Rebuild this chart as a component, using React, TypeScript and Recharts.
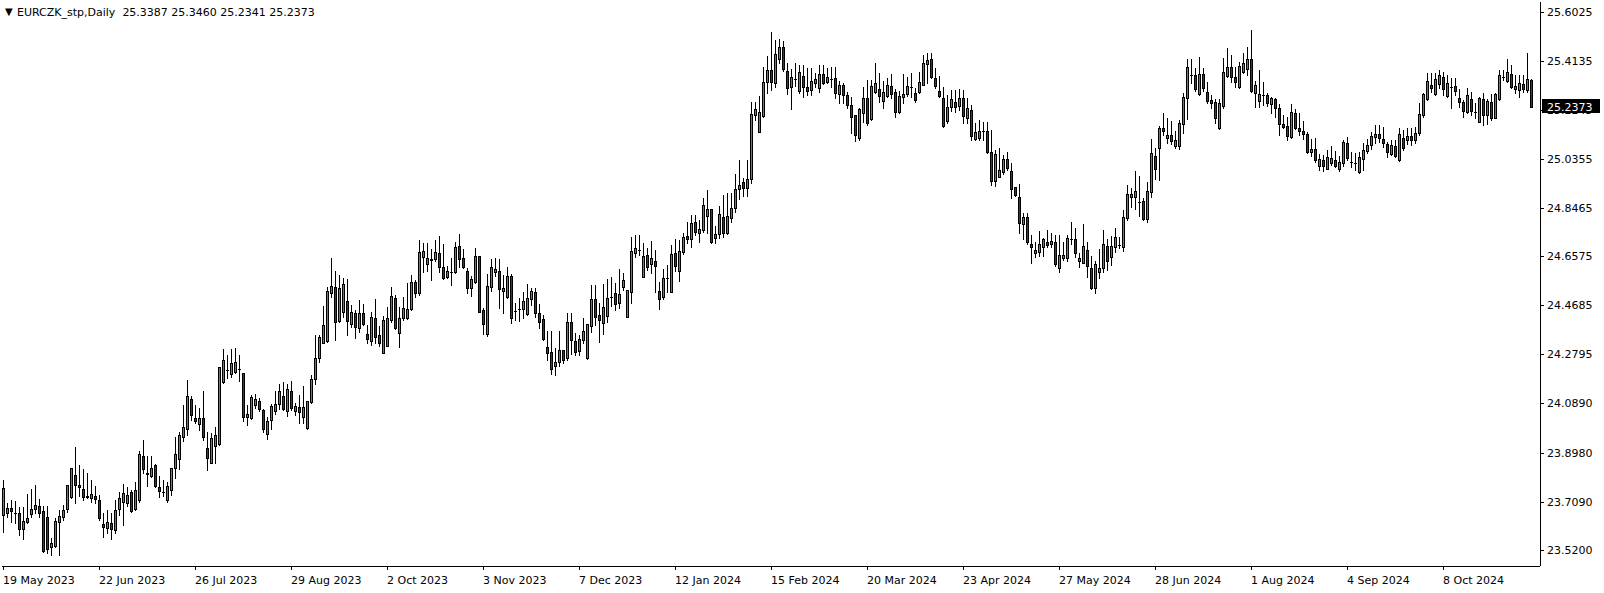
import React from 'react';
import { ComposedChart, Bar, XAxis, YAxis } from 'recharts';

const opens = [
23.657,23.665,23.684,23.665,23.665,23.603,23.630,23.661,23.680,23.692,
23.673,23.649,23.533,23.537,23.630,23.649,23.680,23.727,23.812,23.773,
23.758,23.731,23.723,23.731,23.715,23.622,23.607,23.626,23.599,23.680,
23.707,23.704,23.746,23.680,23.715,23.885,23.820,23.808,23.851,23.765,
23.746,23.715,23.754,23.839,23.874,23.959,23.990,24.106,24.032,24.009,
24.032,23.916,23.858,23.924,23.932,24.172,24.218,24.203,24.211,24.222,
24.207,24.036,24.032,24.083,24.098,24.063,23.971,24.025,24.060,24.087,
24.118,24.060,24.137,24.060,24.075,24.036,23.994,24.094,24.183,24.265,
24.323,24.330,24.516,24.539,24.408,24.443,24.485,24.396,24.439,24.381,
24.439,24.358,24.330,24.419,24.354,24.284,24.311,24.412,24.497,24.361,
24.419,24.419,24.454,24.559,24.516,24.656,24.628,24.648,24.648,24.671,
24.617,24.578,24.598,24.598,24.698,24.652,24.601,24.535,24.559,24.659,
24.450,24.358,24.539,24.598,24.601,24.524,24.501,24.582,24.447,24.454,
24.454,24.435,24.493,24.520,24.439,24.416,24.307,24.288,24.234,24.249,
24.296,24.265,24.404,24.330,24.292,24.334,24.265,24.389,24.493,24.431,
24.400,24.427,24.501,24.516,24.478,24.539,24.423,24.520,24.671,24.683,
24.578,24.663,24.628,24.640,24.524,24.501,24.574,24.520,24.671,24.601,
24.675,24.737,24.725,24.791,24.748,24.760,24.814,24.841,24.729,24.745,
24.810,24.748,24.806,24.845,24.919,24.946,24.923,24.957,25.205,25.139,
25.201,25.333,25.379,25.329,25.422,25.468,25.375,25.313,25.344,25.298,
25.356,25.313,25.302,25.329,25.310,25.364,25.333,25.344,25.348,25.286,
25.321,25.282,25.244,25.205,25.116,25.213,25.271,25.190,25.294,25.306,
25.259,25.279,25.317,25.294,25.217,25.275,25.286,25.313,25.290,25.294,
25.321,25.402,25.422,25.348,25.298,25.271,25.182,25.236,25.255,25.240,
25.271,25.193,25.224,25.112,25.116,25.143,25.143,25.062,24.950,24.965,
24.985,25.035,24.988,24.926,24.888,24.783,24.810,24.706,24.671,24.675,
24.694,24.714,24.706,24.714,24.613,24.652,24.652,24.725,24.725,24.640,
24.632,24.683,24.613,24.535,24.598,24.613,24.698,24.656,24.694,24.702,
24.694,24.806,24.888,24.888,24.868,24.872,24.803,24.907,25.046,25.077,
25.155,25.116,25.128,25.085,25.085,25.170,25.271,25.360,25.360,25.286,
25.364,25.294,25.263,25.255,25.155,25.240,25.356,25.391,25.352,25.313,
25.372,25.383,25.422,25.290,25.259,25.282,25.282,25.248,25.267,25.232,
25.170,25.163,25.120,25.213,25.155,25.143,25.132,25.062,25.073,25.008,
25.031,24.996,25.019,25.031,24.996,25.019,25.097,25.023,25.019,24.985,
25.035,25.066,25.089,25.120,25.132,25.112,25.093,25.054,25.085,25.031,
25.116,25.108,25.124,25.108,25.135,25.205,25.267,25.321,25.286,25.325,
25.352,25.279,25.313,25.317,25.271,25.255,25.217,25.267,25.217,25.178,
25.267,25.205,25.255,25.193,25.267,25.352,25.337,25.364,25.306,25.302,
25.325,25.302,25.3387];

const highs = [
23.793,23.704,23.715,23.711,23.688,23.688,23.738,23.758,23.773,23.719,
23.692,23.692,23.568,23.645,23.676,23.696,23.773,23.839,23.920,23.851,
23.835,23.820,23.793,23.769,23.734,23.665,23.676,23.665,23.715,23.746,
23.777,23.765,23.754,23.785,23.905,23.947,23.885,23.885,23.854,23.808,
23.793,23.785,23.839,23.959,23.978,24.083,24.180,24.118,24.083,24.071,
24.137,23.978,23.974,23.998,24.230,24.300,24.276,24.300,24.303,24.276,
24.207,24.083,24.121,24.125,24.110,24.067,24.036,24.087,24.137,24.164,
24.172,24.164,24.176,24.091,24.121,24.156,24.098,24.199,24.354,24.354,
24.466,24.539,24.652,24.601,24.586,24.574,24.570,24.470,24.450,24.489,
24.474,24.392,24.443,24.493,24.388,24.427,24.462,24.539,24.508,24.462,
24.501,24.555,24.586,24.567,24.721,24.710,24.710,24.687,24.721,24.737,
24.706,24.621,24.652,24.714,24.745,24.687,24.613,24.582,24.690,24.659,
24.458,24.590,24.648,24.652,24.648,24.586,24.617,24.590,24.478,24.497,
24.520,24.551,24.535,24.535,24.474,24.431,24.369,24.369,24.303,24.369,
24.296,24.439,24.439,24.361,24.354,24.419,24.396,24.547,24.547,24.478,
24.551,24.570,24.578,24.555,24.609,24.594,24.528,24.733,24.741,24.741,
24.710,24.690,24.717,24.683,24.559,24.609,24.625,24.702,24.725,24.721,
24.748,24.791,24.818,24.818,24.799,24.883,24.915,24.841,24.776,24.853,
24.895,24.903,24.903,24.977,25.031,24.961,25.031,25.255,25.255,25.279,
25.391,25.433,25.526,25.495,25.499,25.491,25.406,25.383,25.406,25.399,
25.399,25.387,25.387,25.368,25.399,25.399,25.387,25.391,25.391,25.337,
25.329,25.294,25.275,25.205,25.232,25.313,25.341,25.341,25.406,25.368,
25.337,25.348,25.364,25.306,25.298,25.364,25.352,25.368,25.310,25.372,
25.437,25.445,25.445,25.387,25.356,25.313,25.282,25.302,25.302,25.306,
25.302,25.271,25.244,25.174,25.186,25.178,25.178,25.147,25.070,25.077,
25.050,25.062,25.019,24.926,24.938,24.826,24.826,24.741,24.714,24.756,
24.729,24.760,24.748,24.741,24.741,24.714,24.741,24.791,24.768,24.671,
24.783,24.714,24.659,24.640,24.687,24.760,24.725,24.737,24.768,24.733,
24.837,24.934,24.922,24.988,24.969,24.883,24.946,25.112,25.077,25.162,
25.213,25.193,25.182,25.143,25.186,25.290,25.422,25.422,25.387,25.430,
25.387,25.333,25.282,25.267,25.267,25.426,25.464,25.437,25.391,25.410,
25.445,25.468,25.534,25.337,25.379,25.333,25.290,25.275,25.271,25.248,
25.205,25.197,25.248,25.228,25.213,25.182,25.139,25.112,25.116,25.054,
25.050,25.070,25.085,25.066,25.046,25.108,25.120,25.062,25.058,25.062,
25.097,25.112,25.139,25.166,25.166,25.159,25.101,25.108,25.108,25.155,
25.147,25.155,25.155,25.159,25.252,25.290,25.368,25.368,25.368,25.379,
25.372,25.360,25.348,25.348,25.306,25.263,25.310,25.294,25.252,25.275,
25.290,25.267,25.286,25.290,25.379,25.379,25.422,25.399,25.360,25.360,
25.360,25.445,25.3460];

const lows = [
23.591,23.649,23.630,23.626,23.580,23.564,23.626,23.649,23.665,23.649,
23.514,23.510,23.502,23.533,23.502,23.638,23.669,23.723,23.704,23.731,
23.715,23.723,23.707,23.704,23.638,23.572,23.587,23.564,23.587,23.657,
23.618,23.692,23.669,23.676,23.707,23.820,23.769,23.804,23.765,23.727,
23.731,23.707,23.734,23.800,23.835,23.943,23.967,24.025,24.013,23.986,
23.947,23.831,23.858,23.858,23.928,24.168,24.187,24.191,24.207,24.176,
24.021,24.005,24.029,24.071,24.060,23.978,23.951,23.990,24.048,24.067,
24.063,24.040,24.063,24.044,24.013,24.013,23.990,24.091,24.164,24.249,
24.323,24.327,24.501,24.334,24.404,24.423,24.354,24.385,24.342,24.365,
24.392,24.323,24.315,24.323,24.311,24.284,24.311,24.404,24.377,24.307,
24.412,24.416,24.450,24.501,24.508,24.598,24.601,24.567,24.640,24.598,
24.570,24.574,24.547,24.594,24.617,24.613,24.516,24.505,24.555,24.443,
24.358,24.350,24.524,24.582,24.458,24.439,24.497,24.400,24.412,24.408,
24.419,24.431,24.470,24.423,24.381,24.334,24.257,24.203,24.199,24.234,
24.245,24.257,24.280,24.276,24.276,24.323,24.261,24.365,24.392,24.327,
24.358,24.404,24.466,24.450,24.458,24.528,24.423,24.478,24.656,24.663,
24.578,24.605,24.594,24.520,24.454,24.493,24.520,24.520,24.601,24.563,
24.667,24.710,24.694,24.741,24.714,24.752,24.748,24.710,24.710,24.729,
24.733,24.745,24.791,24.830,24.880,24.892,24.892,24.942,25.186,25.139,
25.197,25.290,25.302,25.313,25.406,25.375,25.286,25.228,25.317,25.290,
25.275,25.282,25.282,25.313,25.294,25.325,25.329,25.313,25.271,25.252,
25.252,25.232,25.135,25.104,25.108,25.178,25.166,25.186,25.290,25.255,
25.232,25.275,25.271,25.197,25.213,25.252,25.279,25.275,25.255,25.290,
25.321,25.329,25.348,25.310,25.275,25.159,25.174,25.220,25.217,25.224,
25.174,25.174,25.108,25.108,25.108,25.108,25.058,24.934,24.930,24.965,
24.977,24.992,24.883,24.892,24.748,24.725,24.706,24.632,24.656,24.659,
24.659,24.694,24.694,24.621,24.598,24.644,24.640,24.706,24.656,24.617,
24.632,24.578,24.532,24.516,24.574,24.598,24.605,24.625,24.675,24.690,
24.679,24.799,24.849,24.841,24.814,24.799,24.791,24.888,24.957,24.954,
25.128,25.097,25.093,25.077,25.073,25.135,25.190,25.329,25.298,25.282,
25.298,25.252,25.232,25.174,25.151,25.232,25.352,25.333,25.313,25.310,
25.368,25.360,25.294,25.236,25.236,25.244,25.240,25.213,25.197,25.128,
25.155,25.108,25.116,25.151,25.128,25.112,25.058,25.046,25.023,24.992,
24.988,24.996,25.012,25.004,24.988,25.008,25.031,25.004,24.992,24.981,
24.992,25.058,25.073,25.097,25.101,25.081,25.043,25.050,25.043,25.027,
25.070,25.093,25.089,25.097,25.128,25.197,25.263,25.294,25.282,25.310,
25.282,25.275,25.232,25.282,25.236,25.197,25.213,25.205,25.193,25.178,
25.166,25.170,25.186,25.193,25.263,25.341,25.333,25.310,25.290,25.275,
25.294,25.294,25.2341];

const closes = [
23.762,23.684,23.673,23.665,23.603,23.634,23.645,23.680,23.696,23.665,
23.518,23.526,23.549,23.634,23.653,23.676,23.773,23.839,23.773,23.765,
23.727,23.727,23.738,23.719,23.645,23.611,23.630,23.603,23.676,23.723,
23.742,23.734,23.673,23.754,23.893,23.835,23.816,23.839,23.769,23.750,
23.746,23.769,23.839,23.893,23.967,23.998,24.118,24.044,24.021,24.032,
23.959,23.878,23.955,23.967,24.230,24.257,24.218,24.245,24.249,24.222,
24.036,24.048,24.114,24.106,24.067,23.990,24.021,24.079,24.087,24.137,
24.067,24.145,24.071,24.079,24.056,24.075,24.098,24.183,24.265,24.346,
24.392,24.524,24.543,24.404,24.535,24.551,24.408,24.443,24.385,24.439,
24.396,24.338,24.423,24.346,24.323,24.412,24.419,24.505,24.381,24.419,
24.458,24.454,24.559,24.516,24.675,24.679,24.652,24.644,24.675,24.617,
24.574,24.601,24.598,24.694,24.648,24.617,24.535,24.570,24.659,24.443,
24.396,24.543,24.617,24.609,24.532,24.535,24.582,24.419,24.447,24.454,
24.485,24.497,24.524,24.439,24.404,24.338,24.284,24.222,24.249,24.296,
24.257,24.404,24.334,24.288,24.338,24.369,24.396,24.493,24.423,24.412,
24.462,24.497,24.501,24.474,24.512,24.567,24.528,24.679,24.690,24.683,
24.659,24.617,24.652,24.621,24.493,24.574,24.574,24.667,24.621,24.679,
24.733,24.725,24.787,24.752,24.764,24.857,24.841,24.714,24.745,24.822,
24.748,24.814,24.845,24.919,24.934,24.923,24.957,25.209,25.228,25.217,
25.333,25.379,25.333,25.441,25.468,25.383,25.310,25.352,25.344,25.372,
25.313,25.298,25.337,25.344,25.364,25.329,25.352,25.344,25.290,25.321,
25.282,25.244,25.197,25.128,25.228,25.271,25.174,25.317,25.329,25.279,
25.294,25.321,25.286,25.217,25.279,25.286,25.317,25.313,25.263,25.333,
25.406,25.418,25.352,25.317,25.279,25.163,25.236,25.267,25.236,25.271,
25.201,25.232,25.124,25.139,25.143,25.143,25.062,24.950,25.054,24.992,
25.035,25.000,24.919,24.895,24.787,24.810,24.714,24.694,24.683,24.706,
24.725,24.702,24.717,24.628,24.663,24.663,24.729,24.725,24.671,24.652,
24.698,24.621,24.535,24.628,24.613,24.706,24.640,24.698,24.733,24.702,
24.810,24.899,24.899,24.911,24.868,24.803,24.911,25.058,24.996,25.155,
25.143,25.128,25.104,25.108,25.174,25.275,25.391,25.360,25.306,25.364,
25.310,25.259,25.252,25.193,25.252,25.372,25.391,25.352,25.333,25.395,
25.406,25.422,25.298,25.321,25.286,25.282,25.252,25.271,25.232,25.170,
25.159,25.124,25.217,25.155,25.143,25.132,25.062,25.073,25.031,25.035,
25.008,25.043,25.039,25.008,25.023,25.101,25.039,25.023,25.019,25.043,
25.070,25.089,25.124,25.132,25.116,25.097,25.062,25.089,25.046,25.132,
25.077,25.124,25.108,25.135,25.209,25.286,25.337,25.310,25.344,25.360,
25.306,25.329,25.313,25.298,25.255,25.220,25.282,25.220,25.217,25.271,
25.205,25.259,25.193,25.286,25.360,25.352,25.372,25.313,25.317,25.329,
25.306,25.344,25.2373];

const dateLabels = [
  '19 May 2023', '22 Jun 2023', '26 Jul 2023', '29 Aug 2023', '2 Oct 2023', '3 Nov 2023',
  '7 Dec 2023', '12 Jan 2024', '15 Feb 2024', '20 Mar 2024', '23 Apr 2024', '27 May 2024',
  '28 Jun 2024', '1 Aug 2024', '4 Sep 2024', '8 Oct 2024',
];
const dateLabelStep = 24;

const priceLabels = [25.6025, 25.4135, 25.2245, 25.0355, 24.8465, 24.6575, 24.4685, 24.2795, 24.089, 23.898, 23.709, 23.52];
const headerSymbol = 'EURCZK_stp,Daily';
const headerOhlc = ['25.3387', '25.3460', '25.2341', '25.2373'];

const W = 1604;
const H = 593;
const FONT = '"DejaVu Sans", Verdana, sans-serif';
const UP = '#00C800';
const DOWN = '#C80000';
const Y_MAX = 25.64236;
const Y_MIN = 23.45968;

const lastClose = closes[closes.length - 1];

type Row = { i: number; o?: number; h?: number; l?: number; c?: number; range: [number, number] | null };
const rows: Row[] = opens.map((o, i) => ({ i, o, h: highs[i], l: lows[i], c: closes[i], range: [lows[i], highs[i]] }));
rows.push({ i: opens.length, range: null });

const tickIdx = dateLabels.map((_, j) => j * dateLabelStep);

const Candle = (props: any) => {
  const { x, y, width, height, payload } = props;
  if (!payload || payload.o == null || !Number.isFinite(y)) return null;
  const { o, h, l, c } = payload;
  const cx = Math.floor(x + width / 2 - 0.5);
  const span = h - l;
  const toY = (v: number) => (span === 0 ? y : y + ((h - v) / span) * height);
  const yO = Math.round(toY(o));
  const yC = Math.round(toY(c));
  const top = Math.min(yO, yC);
  const bot = Math.max(yO, yC);
  const yH = Math.min(Math.round(toY(h)), top);
  const yL = Math.max(Math.round(toY(l)), bot);
  const fill = c > o ? UP : DOWN;
  return (
    <g>
      <rect x={cx} y={yH} width={1} height={yL - yH + 1} fill="#000" />
      <rect x={cx - 1} y={top} width={3} height={bot - top + 1} fill="#000" />
      {bot - top >= 2 && c !== o && (
        <rect x={cx} y={top + 1} width={1} height={bot - top - 1} fill={fill} />
      )}
    </g>
  );
};

const XTick = (props: any) => {
  const { x, y, payload } = props;
  const j = Math.round(payload.value / dateLabelStep);
  const cx = Math.floor(x - 0.5);
  return (
    <g>
      <rect x={cx} y={y} width={1} height={4} fill="#000" />
      <text x={cx} y={y + 18} fontFamily={FONT} fontSize={11} fill="#000" textAnchor="start">
        {dateLabels[j]}
      </text>
    </g>
  );
};

const YTick = (props: any) => {
  const { x, y, payload } = props;
  const v = payload.value as number;
  if (v === lastClose) {
    return (
      <g>
        <rect x={x + 2} y={Math.round(y) - 8} width={58} height={14} fill="#000" />
        <text x={x + 7} y={y + 4} fontFamily={FONT} fontSize={11} fill="#fff" textAnchor="start">
          {v.toFixed(4)}
        </text>
      </g>
    );
  }
  return (
    <g>
      <rect x={x} y={Math.round(y)} width={4} height={1} fill="#000" />
      <text x={x + 7} y={y + 4} fontFamily={FONT} fontSize={11} fill="#000" textAnchor="start">
        {v.toFixed(4)}
      </text>
    </g>
  );
};

export default function App() {
  return (
    <div style={{ position: 'fixed', left: 0, top: 0, width: W, height: H, background: '#fff' }}>
      <ComposedChart
        width={W}
        height={H}
        data={rows}
        margin={{ top: 2, right: 0, bottom: 0, left: 2 }}
        barCategoryGap={0}
        barGap={0}
        style={{ shapeRendering: 'crispEdges' }}
      >
        <XAxis
          dataKey="i"
          type="category"
          ticks={tickIdx}
          interval={0}
          padding={{ left: 0, right: 2 }}
          height={593 - 566}
          tickSize={0}
          tickMargin={0}
          tickLine={false}
          axisLine={{ stroke: '#000' }}
          tick={<XTick />}
        />
        <XAxis xAxisId="frameTop" orientation="top" dataKey="i" height={0} tick={false} tickLine={false} axisLine={{ stroke: '#000' }} />
        <YAxis
          orientation="right"
          width={64}
          domain={[Y_MIN, Y_MAX]}
          allowDataOverflow
          ticks={[...priceLabels, lastClose]}
          interval={0}
          tickSize={0}
          tickMargin={0}
          tickLine={false}
          axisLine={{ stroke: '#000' }}
          tick={<YTick />}
        />
        <YAxis yAxisId="frameLeft" orientation="left" width={0} tick={false} tickLine={false} axisLine={{ stroke: '#000' }} />
        <Bar dataKey="range" shape={<Candle />} barSize={4} isAnimationActive={false} />
      </ComposedChart>
      <div
        style={{
          position: 'absolute',
          left: 5,
          top: 5,
          fontFamily: FONT,
          fontSize: 11,
          lineHeight: '14px',
          whiteSpace: 'pre',
          color: '#000',
        }}
      >
        <span style={{ display: 'inline-block', width: 12, fontSize: 10, verticalAlign: '1px' }}>▼</span>
        {`${headerSymbol}  ${headerOhlc.join(' ')}`}
      </div>
    </div>
  );
}
